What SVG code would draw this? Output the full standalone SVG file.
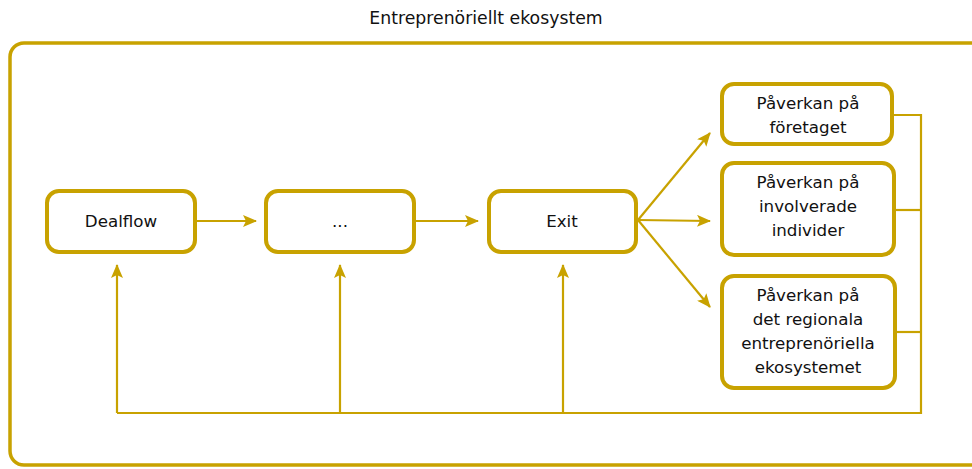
<svg xmlns="http://www.w3.org/2000/svg" width="972" height="469" viewBox="0 0 972 469">
<style>
.box{fill:#fff;stroke:#C8A200;stroke-width:4}
.ln{fill:none;stroke:#C8A200;stroke-width:2.2}
.t{font-family:"DejaVu Sans","Verdana",sans-serif;font-size:16.7px;fill:#111;text-anchor:middle}
.title{font-size:17.3px}
</style>
<defs>
<marker id="ah" viewBox="0 0 14 12" refX="13" refY="6" markerWidth="14" markerHeight="12" markerUnits="userSpaceOnUse" orient="auto">
<path d="M0,0 L14,6 L0,12 L3,6 Z" fill="#C8A200"/>
</marker>
</defs>
<rect width="972" height="469" fill="#fff"/>
<text class="t title" x="486" y="24">Entreprenöriellt ekosystem</text>
<rect x="10" y="43" width="990" height="422" rx="14" fill="none" stroke="#C8A200" stroke-width="3.5"/>
<g id="connectors">
<line class="ln" x1="197" y1="221" x2="256" y2="221" marker-end="url(#ah)"/>
<line class="ln" x1="415" y1="221" x2="478" y2="221" marker-end="url(#ah)"/>
<line class="ln" x1="638" y1="220" x2="710" y2="133" marker-end="url(#ah)"/>
<line class="ln" x1="638" y1="220" x2="710" y2="221" marker-end="url(#ah)"/>
<line class="ln" x1="638" y1="220" x2="710" y2="307" marker-end="url(#ah)"/>
<polyline class="ln" points="893,115 921,115 921,413 117,413"/>
<line class="ln" x1="895" y1="210" x2="921" y2="210"/>
<line class="ln" x1="896" y1="332" x2="921" y2="332"/>
<line class="ln" x1="117" y1="413" x2="117" y2="265" marker-end="url(#ah)"/>
<line class="ln" x1="340" y1="413" x2="340" y2="265" marker-end="url(#ah)"/>
<line class="ln" x1="563" y1="413" x2="563" y2="265" marker-end="url(#ah)"/>
</g>
<g id="dealflow"><rect class="box" x="47" y="191" width="148" height="61" rx="12"/><text class="t" x="121" y="227">Dealflow</text></g>
<g id="dots"><rect class="box" x="266" y="191" width="148" height="61" rx="12"/><text class="t" x="340" y="227">...</text></g>
<g id="exit"><rect class="box" x="489" y="191" width="147" height="61" rx="12"/><text class="t" x="562" y="227">Exit</text></g>
<g id="foretaget"><rect class="box" x="722" y="84" width="170" height="60" rx="12"/><text class="t" x="808" y="109">Påverkan på</text><text class="t" x="808" y="133">företaget</text></g>
<g id="individer"><rect class="box" x="722" y="163" width="172" height="92" rx="12"/><text class="t" x="808" y="188">Påverkan på</text><text class="t" x="808" y="212">involverade</text><text class="t" x="808" y="236">individer</text></g>
<g id="ekosystemet"><rect class="box" x="722" y="276" width="173" height="112" rx="12"/><text class="t" x="808" y="301">Påverkan på</text><text class="t" x="808" y="325">det regionala</text><text class="t" x="808" y="349">entreprenöriella</text><text class="t" x="808" y="373">ekosystemet</text></g>
</svg>
